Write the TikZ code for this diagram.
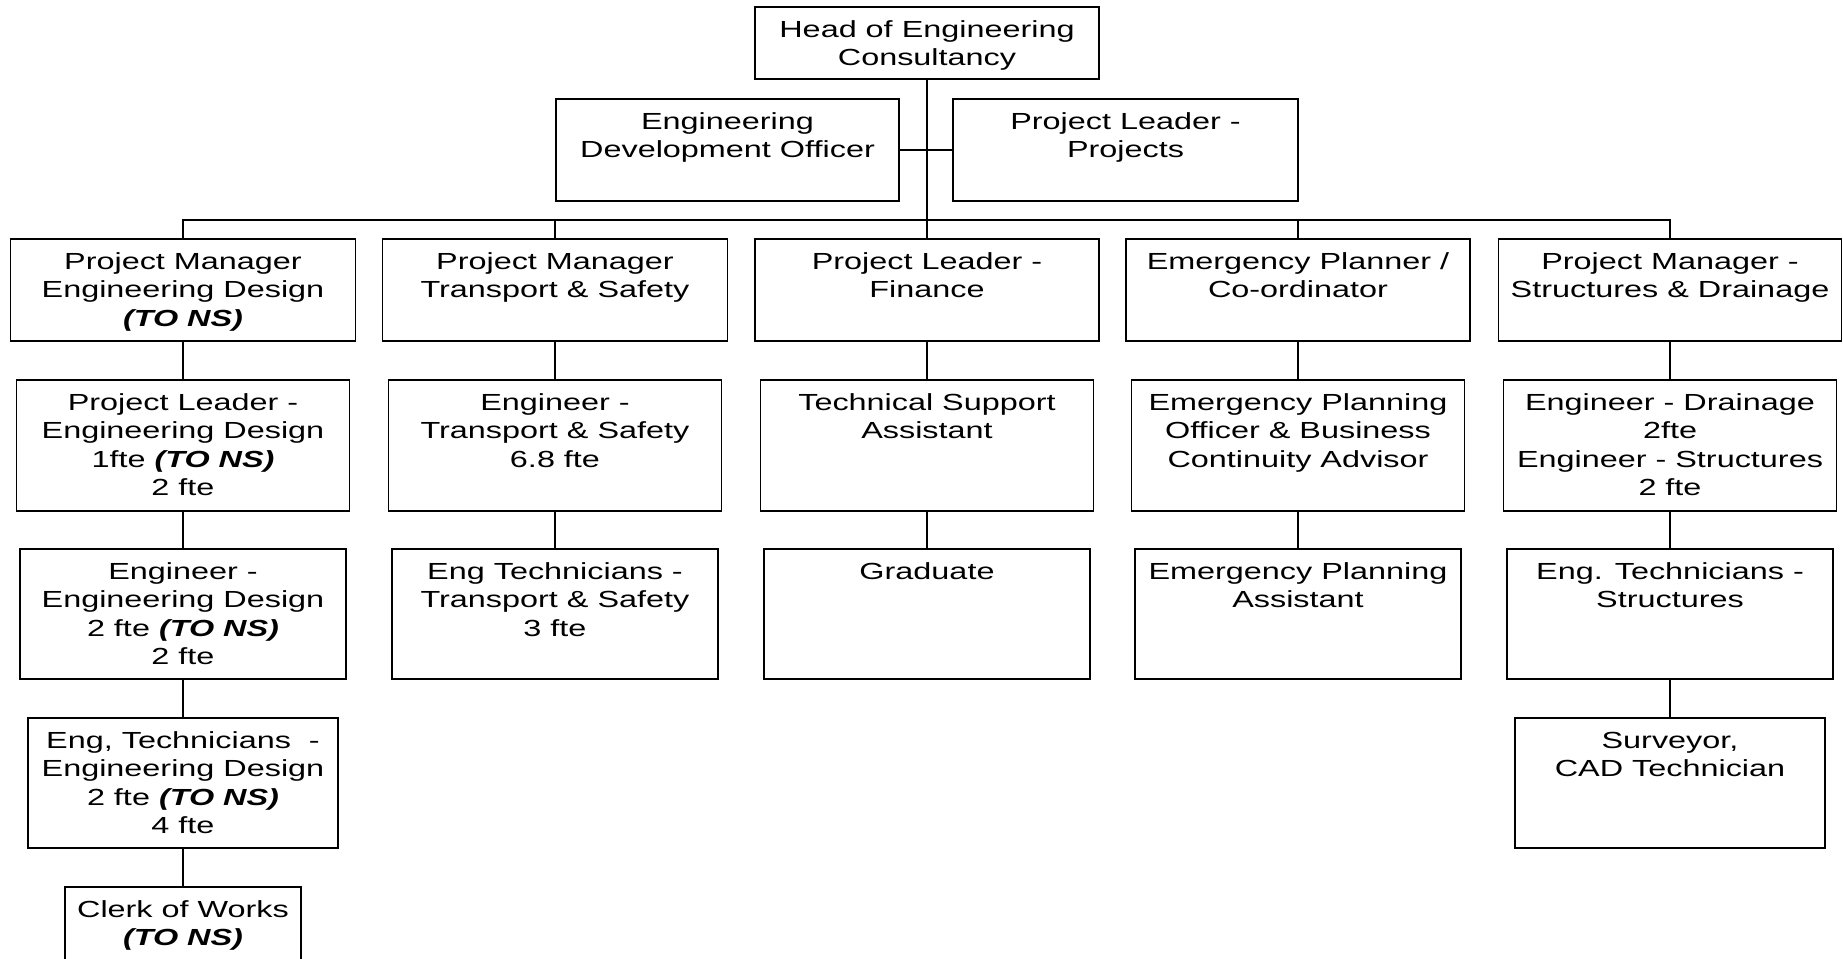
\documentclass[tikz,border=0pt]{standalone}
\usepackage{fontspec}
\setmainfont{Liberation Sans}[FakeStretch=1.39]
\newcommand{\cellbox}[3]{\parbox[c][#2][t]{#1}{\fontsize{23.3pt}{28.5pt}\selectfont\centering\rule{0pt}{30pt}#3}}
\newcommand{\tons}{\textbf{\textit{(TO NS)}}}
\tikzset{
  orgbox/.style={draw, line width=1.8pt, inner sep=0pt, outer sep=0pt},
  link/.style={line width=1.8pt}
}
\begin{document}
\begin{tikzpicture}[x=1pt,y=-1pt]
\useasboundingbox (0,0) rectangle (1843,958);
\clip (0,0) rectangle (1843,958);

\node[orgbox] (head) at (927,43) {\cellbox{344pt}{72pt}{Head of Engineering\\Consultancy}};
\node[orgbox] (devofficer) at (727.5,150) {\cellbox{343pt}{102pt}{Engineering\\Development Officer}};
\node[orgbox] (plprojects) at (1125.5,150) {\cellbox{345pt}{102pt}{Project Leader -\\Projects}};
\coordinate (bus) at (927,220);

\node[orgbox] (pmdesign) at (183,290) {\cellbox{345pt}{102pt}{Project Manager\\Engineering Design\\\tons}};
\node[orgbox] (pmtransport) at (555,290) {\cellbox{345pt}{102pt}{Project Manager\\Transport \& Safety}};
\node[orgbox] (plfinance) at (927,290) {\cellbox{344pt}{102pt}{Project Leader -\\Finance}};
\node[orgbox] (planner) at (1298,290) {\cellbox{344pt}{102pt}{Emergency Planner /\\Co-ordinator}};
\node[orgbox] (pmstruct) at (1670,290) {\cellbox{343pt}{102pt}{Project Manager -\\Structures \& Drainage}};

\node[orgbox] (pldesign) at (183,445.5) {\cellbox{333pt}{131pt}{Project Leader -\\Engineering Design\\1fte \tons\\2 fte}};
\node[orgbox] (engtransport) at (555,445.5) {\cellbox{333pt}{131pt}{Engineer -\\Transport \& Safety\\6.8 fte}};
\node[orgbox] (techsupport) at (927,445.5) {\cellbox{333pt}{131pt}{Technical Support\\Assistant}};
\node[orgbox] (epofficer) at (1298,445.5) {\cellbox{333pt}{131pt}{Emergency Planning\\Officer \& Business\\Continuity Advisor}};
\node[orgbox] (engdrain) at (1670,445.5) {\cellbox{333pt}{131pt}{Engineer - Drainage\\2fte\\Engineer - Structures\\2 fte}};

\node[orgbox] (engdesign) at (183,614) {\cellbox{326pt}{130pt}{Engineer -\\Engineering Design\\2 fte \tons\\2 fte}};
\node[orgbox] (techtransport) at (555,614) {\cellbox{326pt}{130pt}{Eng Technicians -\\Transport \& Safety\\3 fte}};
\node[orgbox] (graduate) at (927,614) {\cellbox{326pt}{130pt}{Graduate}};
\node[orgbox] (epassistant) at (1298,614) {\cellbox{326pt}{130pt}{Emergency Planning\\Assistant}};
\node[orgbox] (techstruct) at (1670,614) {\cellbox{326pt}{130pt}{Eng. Technicians -\\Structures}};

\node[orgbox] (techdesign) at (183,783) {\cellbox{310pt}{130pt}{Eng, Technicians\ \ -\\Engineering Design\\2 fte \tons\\4 fte}};
\node[orgbox] (surveyor) at (1670,783) {\cellbox{310pt}{130pt}{Surveyor,\\CAD Technician}};

\node[orgbox] (clerk) at (183,942) {\cellbox{236pt}{110pt}{Clerk of Works\\\tons}};

\draw[link] (head.south) -- (plfinance.north);
\draw[link] (devofficer.east) -- (plprojects.west);
\draw[link] (pmdesign.north) |- (bus) -| (pmstruct.north);
\draw[link] (pmtransport.north) |- (bus);
\draw[link] (planner.north) |- (bus);

\draw[link] (pmdesign.south) -- (pldesign.north);
\draw[link] (pldesign.south) -- (engdesign.north);
\draw[link] (engdesign.south) -- (techdesign.north);
\draw[link] (techdesign.south) -- (clerk.north);
\draw[link] (pmtransport.south) -- (engtransport.north);
\draw[link] (engtransport.south) -- (techtransport.north);
\draw[link] (plfinance.south) -- (techsupport.north);
\draw[link] (techsupport.south) -- (graduate.north);
\draw[link] (planner.south) -- (epofficer.north);
\draw[link] (epofficer.south) -- (epassistant.north);
\draw[link] (pmstruct.south) -- (engdrain.north);
\draw[link] (engdrain.south) -- (techstruct.north);
\draw[link] (techstruct.south) -- (surveyor.north);
\end{tikzpicture}
\end{document}
